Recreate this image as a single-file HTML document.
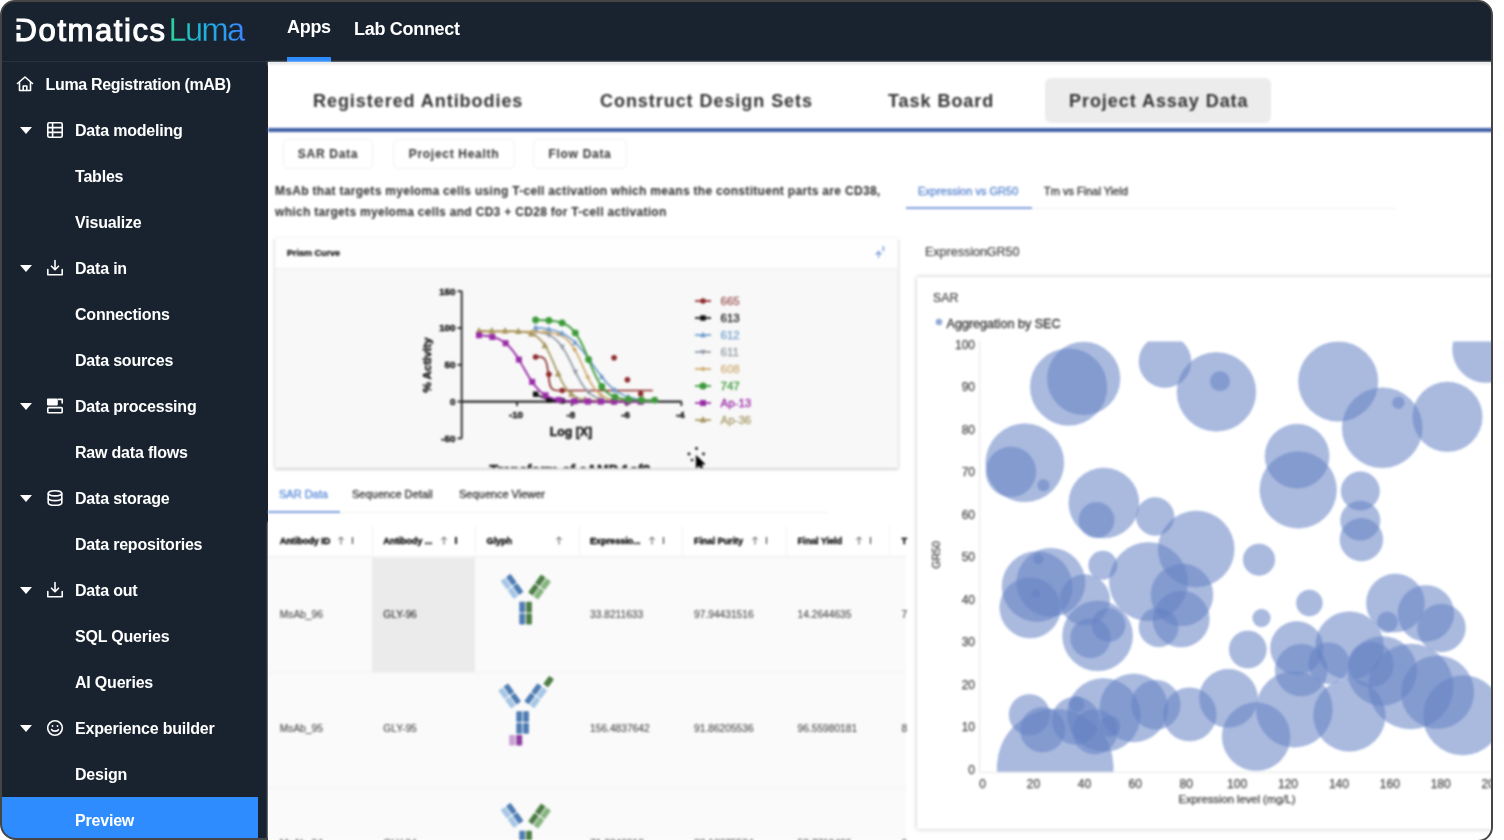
<!DOCTYPE html>
<html lang="en">
<head>
<meta charset="utf-8">
<title>Dotmatics Luma</title>
<style>
*{box-sizing:border-box;margin:0;padding:0}
html,body{width:1504px;height:840px;overflow:hidden;background:#fff;font-family:"Liberation Sans",sans-serif;}
#frame{position:absolute;left:0;top:0;width:1493px;height:842px;border:2px solid #454545;border-radius:15px;overflow:hidden;background:#18232f;}
#inner{position:absolute;left:-2px;top:-2px;width:1494px;height:842px;}
#white{position:absolute;left:268px;top:62px;width:1226px;height:780px;background:#fff}
.abs{position:absolute}
/* header */
#hdr{position:absolute;left:0;top:0;width:1494px;height:62px;background:#18232f;}
#side{position:absolute;left:0;top:62px;width:268.5px;height:780px;background:#18232f;}
#hdrline{position:absolute;left:0;top:61px;width:268px;height:1px;background:#27323e;}
.logo{position:absolute;left:16px;top:11px;color:#fff;font-size:32px;line-height:36px;font-weight:400;letter-spacing:0.45px;-webkit-text-stroke:0.7px #fff;}
.nav{position:absolute;top:17px;color:#fff;font-size:18px;line-height:22px;font-weight:700;letter-spacing:-0.3px}
.sb{position:absolute;margin-top:1px;color:#fff;font-size:16px;line-height:20px;font-weight:700;letter-spacing:-0.2px;white-space:nowrap}
.tri{position:absolute;left:20px;width:0;height:0;border-left:6px solid transparent;border-right:6px solid transparent;border-top:7px solid #fff;}
.ico{position:absolute;left:46px;width:18px;height:18px}
/* tabs */
.tab{position:absolute;top:89.8px;font-size:18px;line-height:22px;font-weight:700;color:#333;letter-spacing:0.95px;white-space:nowrap}
.btn{position:absolute;top:139px;height:30px;border:1px solid #f0f0f0;border-radius:5px;background:#fff;font-size:12px;font-weight:700;color:#333;letter-spacing:0.7px;line-height:28px;text-align:center;white-space:nowrap}
.desc{position:absolute;left:275px;margin-top:1.2px;font-size:12px;line-height:14px;font-weight:700;color:#2e2e2e;letter-spacing:0.31px;white-space:nowrap}
.st{position:absolute;-webkit-text-stroke:0.3px;font-size:11px;line-height:12px;color:#333;white-space:nowrap}
.th{position:absolute;top:535.9px;font-size:9.2px;line-height:10px;font-weight:700;color:#000;-webkit-text-stroke:0.3px #000;white-space:nowrap;letter-spacing:-0.1px}
.td{position:absolute;font-size:10.2px;line-height:10px;color:#444;-webkit-text-stroke:0.15px;white-space:nowrap}
.ar{position:absolute;top:534px;font-size:9px;line-height:10px;color:#666}
</style>
</head>
<body>
<div id="frame"><div id="inner">

<!-- HEADER -->
<div id="hdr"></div>
<div id="side"></div>
<div id="hdrline"></div>
<div id="white"></div>
<svg class="abs" style="left:0;top:0" width="268" height="60" viewBox="0 0 268 60" font-family="Liberation Sans, sans-serif"><defs><linearGradient id="lg" gradientUnits="userSpaceOnUse" x1="171" x2="244" y1="0" y2="0"><stop offset="0" stop-color="#2fd09a"/><stop offset="0.4" stop-color="#1fb6dc"/><stop offset="1" stop-color="#3a86ff"/></linearGradient></defs>
<text x="14.6" y="40.7" font-size="31" fill="#fff" stroke="#fff" stroke-width="1.1" textLength="150.5" lengthAdjust="spacing">Dotmatics</text>
<rect x="14" y="21.7" width="7.4" height="3.3" fill="#18232f"/><rect x="14" y="29.6" width="7.4" height="3.4" fill="#18232f"/>
<text x="168.6" y="40.9" font-size="32.5" fill="url(#lg)" stroke="#18232f" stroke-width="0.3" textLength="76.5" lengthAdjust="spacing">Luma</text></svg>
<div class="nav" style="left:287px;margin-top:-1.2px">Apps</div>
<div class="nav" style="left:354px;margin-top:1.4px">Lab Connect</div>
<div class="abs" style="left:287px;top:57px;width:44px;height:5px;background:#2e8cff"></div>

<!-- SIDEBAR -->
<div id="sidebar-items">
<svg class="abs" style="left:16px;top:75px" width="18" height="18" viewBox="0 0 18 18" fill="none" stroke="#fff" stroke-width="1.6" stroke-linejoin="round" stroke-linecap="round"><path d="M1.5 8.5 L9 2 L16.5 8.5"/><path d="M3.5 7.5 V15.5 H14.5 V7.5"/><path d="M7.2 15.5 V11 H10.8 V15.5"/></svg>
<div class="sb" style="left:45.5px;top:74px;letter-spacing:-0.33px">Luma Registration (mAB)</div>
<div class="tri" style="top:127px"></div>
<svg class="ico" style="top:121px" viewBox="0 0 18 18" fill="none" stroke="#fff" stroke-width="1.6"><rect x="1.8" y="1.8" width="14.4" height="14.4" rx="1.5"/><path d="M1.8 6.6 H16.2 M1.8 11.4 H16.2 M6.6 1.8 V16.2"/></svg>
<div class="sb" style="left:75px;top:120px">Data modeling</div>
<div class="sb" style="left:75px;top:166px">Tables</div>
<div class="sb" style="left:75px;top:212px">Visualize</div>
<div class="tri" style="top:265px"></div>
<svg class="ico" style="top:259px" viewBox="0 0 18 18" fill="none" stroke="#fff" stroke-width="1.6" stroke-linecap="round" stroke-linejoin="round"><path d="M9 1.5 V10.5 M5.5 7.2 L9 10.7 L12.5 7.2"/><path d="M1.8 10.5 V15.8 H16.2 V10.5"/></svg>
<div class="sb" style="left:75px;top:258px">Data in</div>
<div class="sb" style="left:75px;top:304px">Connections</div>
<div class="sb" style="left:75px;top:350px">Data sources</div>
<div class="tri" style="top:403px"></div>
<svg class="ico" style="top:397px" viewBox="0 0 18 18" fill="none" stroke="#fff" stroke-width="1.6" stroke-linejoin="round"><rect x="1.8" y="10.6" width="14.4" height="5.2" rx="0.8"/><path d="M1.8 7.6 V2.2 H11 V7.6 Z" fill="#fff"/><path d="M12.5 2.4 H16.2 V6" stroke-linecap="round"/></svg>
<div class="sb" style="left:75px;top:396px">Data processing</div>
<div class="sb" style="left:75px;top:442px">Raw data flows</div>
<div class="tri" style="top:495px"></div>
<svg class="ico" style="top:489px" viewBox="0 0 18 18" fill="none" stroke="#fff" stroke-width="1.6"><ellipse cx="9" cy="4.3" rx="6.8" ry="2.6"/><path d="M2.2 4.3 V13.7 C2.2 15.2 5.2 16.3 9 16.3 C12.8 16.3 15.8 15.2 15.8 13.7 V4.3"/><path d="M2.2 9 C2.2 10.5 5.2 11.6 9 11.6 C12.8 11.6 15.8 10.5 15.8 9"/></svg>
<div class="sb" style="left:75px;top:488px">Data storage</div>
<div class="sb" style="left:75px;top:534px">Data repositories</div>
<div class="tri" style="top:587px"></div>
<svg class="ico" style="top:581px" viewBox="0 0 18 18" fill="none" stroke="#fff" stroke-width="1.6" stroke-linecap="round" stroke-linejoin="round"><path d="M9 1.5 V10.5 M5.5 7.2 L9 10.7 L12.5 7.2"/><path d="M1.8 10.5 V15.8 H16.2 V10.5"/></svg>
<div class="sb" style="left:75px;top:580px">Data out</div>
<div class="sb" style="left:75px;top:626px">SQL Queries</div>
<div class="sb" style="left:75px;top:672px">AI Queries</div>
<div class="tri" style="top:725px"></div>
<svg class="ico" style="top:719px" viewBox="0 0 18 18" fill="none" stroke="#fff" stroke-width="1.6" stroke-linecap="round"><circle cx="9" cy="9" r="7.3"/><path d="M5.6 10.6 C6.4 12.6 11.6 12.6 12.4 10.6"/><circle cx="6.5" cy="7" r="0.9" fill="#fff" stroke="none"/><circle cx="11.5" cy="7" r="0.9" fill="#fff" stroke="none"/></svg>
<div class="sb" style="left:75px;top:718px">Experience builder</div>
<div class="sb" style="left:75px;top:764px">Design</div>
<div class="abs" style="left:0;top:797px;width:258px;height:46px;background:#2e8cff"></div>
<div class="sb" style="left:75px;top:810px">Preview</div>
</div>

<!-- MAIN -->
<div id="main" style="position:absolute;left:0;top:0;width:1494px;height:842px;filter:blur(0.8px)">
<!-- top tab bar -->
<div class="abs" style="left:268px;top:62px;width:1226px;height:3px;background:linear-gradient(#cfd2d6,#ffffff)"></div>
<div class="abs" style="left:1045px;top:78px;width:226px;height:45px;background:#ececec;border-radius:6px"></div>
<div class="tab" style="left:313px">Registered Antibodies</div>
<div class="tab" style="left:600px">Construct Design Sets</div>
<div class="tab" style="left:888px">Task Board</div>
<div class="tab" style="left:1069px">Project Assay Data</div>
<div class="abs" style="left:268px;top:128px;width:1226px;height:4px;background:#3e5ea5"></div>

<!-- sub buttons -->
<div class="btn" style="left:283px;width:90px">SAR Data</div>
<div class="btn" style="left:393px;width:122px">Project Health</div>
<div class="btn" style="left:533px;width:94px">Flow Data</div>

<div class="desc" style="top:183px">MsAb that targets myeloma cells using T-cell activation which means the constituent parts are CD38,</div>
<div class="desc" style="top:204px">which targets myeloma cells and CD3 + CD28 for T-cell activation</div>

<!-- prism card -->
<div class="abs" id="prism" style="left:275px;top:238px;width:623px;height:230px;background:#f8f8f8;box-shadow:0 1px 3px rgba(0,0,0,0.28)">
  <div class="abs" style="left:0;top:0;width:623px;height:31px;background:#fefefe;border-bottom:1px solid #efefef"></div>
  <div class="abs" style="left:12px;top:11px;font-size:9px;line-height:9px;font-weight:700;color:#000;-webkit-text-stroke:0.2px #000">Prism Curve</div>
  <!--PRISMSVG--><svg class="abs" style="left:0;top:0" width="623" height="230" viewBox="275 238 623 230" font-family="Liberation Sans, sans-serif">
<g stroke="#2a2a2a" stroke-width="1.9" fill="none">
<path d="M461.7 291 V438.6"/>
<path d="M457.5 291.2 H461.7"/>
<path d="M457.5 328.0 H461.7"/>
<path d="M457.5 364.8 H461.7"/>
<path d="M457.5 401.6 H461.7"/>
<path d="M457.5 438.4 H461.7"/>
<path d="M461.7 401.6 H681.6" stroke-width="2.4"/>
<path d="M517.0 401.6 V406"/>
<path d="M571.8 401.6 V406"/>
<path d="M626.6 401.6 V406"/>
<path d="M681.4 401.6 V406"/>
</g>
<g font-size="9.8" font-weight="700" fill="#222" stroke="#222" stroke-width="0.5" text-anchor="end">
<text x="455.5" y="294.5">150</text>
<text x="455.5" y="331.3">100</text>
<text x="455.5" y="368.1">50</text>
<text x="455.5" y="404.9">0</text>
<text x="455.5" y="441.7">-50</text>
</g>
<g font-size="9.8" font-weight="700" fill="#222" stroke="#222" stroke-width="0.5" text-anchor="middle">
<text x="516.0" y="418">-10</text>
<text x="570.8" y="418">-8</text>
<text x="625.6" y="418">-6</text>
<text x="680.4" y="418">-4</text>
<text x="571" y="436.3" font-size="12.3">Log [X]</text>
<text transform="translate(431.2 365) rotate(-90)" font-size="11.6">% Activity</text>
<text x="570" y="474.8" font-size="14" fill="#222">Transform of cAMP 1of2</text>
</g>
<g fill="none" stroke-width="1.7">
<path d="M535.6 394.2 L548.9 399.8 L562.2 400.9 L574.7 401.1 L587.8 401.4 L600.8 401.4 L614.1 401.6 L627.4 401.6 L640.7 401.6" stroke="#111"/>
<rect x="532.9" y="391.5" width="5.4" height="5.4" fill="#111"/><rect x="546.2" y="397.1" width="5.4" height="5.4" fill="#111"/><rect x="559.5" y="398.2" width="5.4" height="5.4" fill="#111"/><rect x="572.0" y="398.4" width="5.4" height="5.4" fill="#111"/><rect x="585.1" y="398.7" width="5.4" height="5.4" fill="#111"/><rect x="598.1" y="398.7" width="5.4" height="5.4" fill="#111"/><rect x="611.4" y="398.9" width="5.4" height="5.4" fill="#111"/><rect x="624.7" y="398.9" width="5.4" height="5.4" fill="#111"/><rect x="638.0" y="398.9" width="5.4" height="5.4" fill="#111"/>
<path d="M535.6 356.7 C544.9 355.6 546.8 359.1 548.4 374.3 C549.5 387.0 551.1 390.5 556.9 390.5 H652.7" stroke="#8e2a2a"/>
<circle cx="535.6" cy="357.0" r="2.8" fill="#8e2a2a"/><circle cx="548.9" cy="374.3" r="2.8" fill="#8e2a2a"/><circle cx="562.2" cy="390.5" r="2.8" fill="#8e2a2a"/><circle cx="614.1" cy="357.8" r="2.8" fill="#8e2a2a"/><circle cx="627.4" cy="379.8" r="2.8" fill="#8e2a2a"/><circle cx="640.7" cy="393.7" r="2.8" fill="#8e2a2a"/>
<path d="M535.6 331.8 L537.4 332.0 L539.1 332.3 L540.9 332.6 L542.6 333.0 L544.4 333.4 L546.1 333.9 L547.9 334.6 L549.6 335.4 L551.4 336.3 L553.1 337.4 L554.9 338.8 L556.6 340.3 L558.4 342.1 L560.2 344.2 L561.9 346.5 L563.7 349.2 L565.4 352.1 L567.2 355.3 L568.9 358.7 L570.7 362.2 L572.4 365.8 L574.2 369.5 L575.9 373.0 L577.7 376.4 L579.4 379.7 L581.2 382.7 L582.9 385.4 L584.7 387.8 L586.4 390.0 L588.2 391.8 L589.9 393.4 L591.7 394.8 L593.4 396.0 L595.2 396.9 L596.9 397.8 L598.7 398.4 L600.4 399.0 L602.2 399.5 L603.9 399.9 L605.7 400.2 L607.4 400.4 L609.2 400.7 L610.9 400.8 L612.7 401.0 L614.4 401.1 L616.2 401.2 L617.9 401.3 L619.7 401.3 L621.4 401.4 L623.2 401.4 L624.9 401.5 L626.7 401.5 L628.4 401.5 L630.2 401.5 L631.9 401.5 L633.7 401.5 L635.4 401.6 L637.2 401.6 L638.9 401.6 L640.7 401.6" stroke="#8e98a3"/>
<path d="M535.6 334.9 L538.3 329.8 H532.9 Z" fill="#8e98a3"/><path d="M548.9 338.1 L551.6 333.0 H546.2 Z" fill="#8e98a3"/><path d="M562.1 349.9 L564.8 344.8 H559.4 Z" fill="#8e98a3"/><path d="M575.3 375.0 L578.0 369.8 H572.6 Z" fill="#8e98a3"/><path d="M588.6 395.3 L591.3 390.2 H585.9 Z" fill="#8e98a3"/><path d="M601.8 402.5 L604.5 397.4 H599.1 Z" fill="#8e98a3"/><path d="M615.0 404.2 L617.7 399.1 H612.3 Z" fill="#8e98a3"/><path d="M628.3 404.6 L631.0 399.5 H625.6 Z" fill="#8e98a3"/><path d="M641.5 404.7 L644.2 399.6 H638.8 Z" fill="#8e98a3"/>
<path d="M479.0 331.7 L481.9 331.7 L484.8 331.7 L487.7 331.7 L490.7 331.7 L493.6 331.7 L496.5 331.7 L499.4 331.7 L502.3 331.7 L505.2 331.7 L508.2 331.7 L511.1 331.7 L514.0 331.7 L516.9 331.7 L519.8 331.7 L522.7 331.7 L525.7 331.7 L528.6 331.7 L531.5 331.8 L534.4 331.8 L537.3 331.9 L540.2 332.0 L543.2 332.1 L546.1 332.3 L549.0 332.5 L551.9 332.9 L554.8 333.5 L557.7 334.2 L560.7 335.4 L563.6 336.9 L566.5 339.1 L569.4 342.0 L572.3 345.8 L575.2 350.6 L578.2 356.2 L581.1 362.5 L584.0 369.0 L586.9 375.4 L589.8 381.1 L592.7 386.0 L595.7 390.0 L598.6 393.0 L601.5 395.3 L604.4 397.0 L607.3 398.2 L610.2 399.0 L613.2 399.6 L616.1 400.0 L619.0 400.3 L621.9 400.4 L624.8 400.6 L627.7 400.7 L630.7 400.7 L633.6 400.8 L636.5 400.8 L639.4 400.8 L642.3 400.8 L645.2 400.8 L648.2 400.9 L651.1 400.9 L654.0 400.9" stroke="#cfa769"/>
<path d="M479.0 329.3 L481.4 331.7 L479.0 334.1 L476.6 331.7 Z" fill="#cfa769"/><path d="M491.8 329.3 L494.2 331.7 L491.8 334.1 L489.4 331.7 Z" fill="#cfa769"/><path d="M505.1 329.3 L507.5 331.7 L505.1 334.1 L502.7 331.7 Z" fill="#cfa769"/><path d="M518.4 329.3 L520.8 331.7 L518.4 334.1 L516.0 331.7 Z" fill="#cfa769"/><path d="M531.6 329.4 L534.0 331.8 L531.6 334.2 L529.2 331.8 Z" fill="#cfa769"/><path d="M544.9 329.8 L547.3 332.2 L544.9 334.6 L542.5 332.2 Z" fill="#cfa769"/><path d="M558.2 332.0 L560.6 334.4 L558.2 336.8 L555.8 334.4 Z" fill="#cfa769"/><path d="M574.7 347.3 L577.1 349.7 L574.7 352.1 L572.3 349.7 Z" fill="#cfa769"/><path d="M587.8 374.8 L590.2 377.2 L587.8 379.6 L585.4 377.2 Z" fill="#cfa769"/><path d="M600.8 392.4 L603.2 394.8 L600.8 397.2 L598.4 394.8 Z" fill="#cfa769"/><path d="M614.1 397.3 L616.5 399.7 L614.1 402.1 L611.7 399.7 Z" fill="#cfa769"/><path d="M627.4 398.3 L629.8 400.7 L627.4 403.1 L625.0 400.7 Z" fill="#cfa769"/><path d="M640.7 398.4 L643.1 400.8 L640.7 403.2 L638.3 400.8 Z" fill="#cfa769"/><path d="M654.0 398.5 L656.4 400.9 L654.0 403.3 L651.6 400.9 Z" fill="#cfa769"/>
<path d="M535.6 327.5 L537.6 327.7 L539.6 327.9 L541.6 328.1 L543.5 328.4 L545.5 328.6 L547.5 329.0 L549.4 329.3 L551.4 329.8 L553.4 330.3 L555.4 330.8 L557.3 331.5 L559.3 332.2 L561.3 333.1 L563.3 334.0 L565.2 335.1 L567.2 336.3 L569.2 337.6 L571.1 339.1 L573.1 340.7 L575.1 342.5 L577.1 344.5 L579.0 346.6 L581.0 348.9 L583.0 351.3 L585.0 353.8 L586.9 356.5 L588.9 359.2 L590.9 362.0 L592.8 364.8 L594.8 367.6 L596.8 370.3 L598.8 373.0 L600.7 375.6 L602.7 378.1 L604.7 380.4 L606.6 382.6 L608.6 384.6 L610.6 386.5 L612.6 388.2 L614.5 389.8 L616.5 391.2 L618.5 392.5 L620.5 393.6 L622.4 394.6 L624.4 395.5 L626.4 396.3 L628.3 397.0 L630.3 397.6 L632.3 398.1 L634.3 398.6 L636.2 399.0 L638.2 399.3 L640.2 399.6 L642.2 399.9 L644.1 400.1 L646.1 400.3 L648.1 400.5 L650.0 400.7 L652.0 400.8 L654.0 400.9" stroke="#6c9bcc"/>
<path d="M535.6 324.2 L538.5 329.7 H532.7 Z" fill="#6c9bcc"/><path d="M548.9 325.9 L551.8 331.4 H546.0 Z" fill="#6c9bcc"/><path d="M562.1 330.1 L565.0 335.6 H559.2 Z" fill="#6c9bcc"/><path d="M575.3 339.4 L578.2 344.9 H572.4 Z" fill="#6c9bcc"/><path d="M588.6 355.4 L591.5 360.9 H585.7 Z" fill="#6c9bcc"/><path d="M601.8 373.6 L604.7 379.1 H598.9 Z" fill="#6c9bcc"/><path d="M615.0 386.8 L617.9 392.3 H612.1 Z" fill="#6c9bcc"/><path d="M628.3 393.6 L631.2 399.1 H625.4 Z" fill="#6c9bcc"/><path d="M641.5 396.5 L644.4 402.0 H638.6 Z" fill="#6c9bcc"/><path d="M654.7 397.6 L657.6 403.1 H651.8 Z" fill="#6c9bcc"/>
<path d="M479.0 330.9 L481.7 330.9 L484.4 330.9 L487.1 331.0 L489.8 331.0 L492.5 331.0 L495.2 331.0 L497.9 331.0 L500.5 331.0 L503.2 331.0 L505.9 331.0 L508.6 331.1 L511.3 331.1 L514.0 331.2 L516.7 331.4 L519.4 331.5 L522.1 331.8 L524.8 332.2 L527.5 332.7 L530.2 333.4 L532.9 334.4 L535.6 335.8 L538.3 337.8 L541.0 340.4 L543.7 343.7 L546.4 347.9 L549.1 353.0 L551.8 358.8 L554.5 365.1 L557.1 371.3 L559.8 377.3 L562.5 382.6 L565.2 387.0 L567.9 390.6 L570.6 393.4 L573.3 395.5 L576.0 397.0 L578.7 398.2 L581.4 399.0 L584.1 399.5 L586.8 399.9 L589.5 400.2 L592.2 400.4 L594.9 400.5 L597.6 400.6 L600.3 400.7 L603.0 400.8 L605.7 400.8 L608.4 400.8 L611.0 400.8 L613.7 400.8 L616.4 400.8 L619.1 400.9 L621.8 400.9 L624.5 400.9 L627.2 400.9 L629.9 400.9 L632.6 400.9 L635.3 400.9 L638.0 400.9 L640.7 400.9" stroke="#a6965e"/>
<path d="M479.0 327.0 L482.4 333.5 H475.6 Z" fill="#a6965e"/><path d="M491.8 327.0 L495.2 333.5 H488.4 Z" fill="#a6965e"/><path d="M505.1 327.1 L508.5 333.6 H501.7 Z" fill="#a6965e"/><path d="M518.4 327.5 L521.8 334.0 H515.0 Z" fill="#a6965e"/><path d="M531.6 330.0 L535.0 336.5 H528.2 Z" fill="#a6965e"/><path d="M544.9 341.7 L548.3 348.2 H541.5 Z" fill="#a6965e"/><path d="M558.2 369.9 L561.6 376.4 H554.8 Z" fill="#a6965e"/><path d="M571.5 390.3 L574.9 396.7 H568.1 Z" fill="#a6965e"/><path d="M584.8 395.7 L588.2 402.2 H581.4 Z" fill="#a6965e"/><path d="M598.1 396.7 L601.5 403.2 H594.7 Z" fill="#a6965e"/><path d="M612.8 396.9 L616.2 403.4 H609.4 Z" fill="#a6965e"/><path d="M627.4 396.9 L630.8 403.4 H624.0 Z" fill="#a6965e"/><path d="M640.7 397.0 L644.1 403.4 H637.3 Z" fill="#a6965e"/>
<path d="M479.0 335.2 L481.7 335.4 L484.4 335.7 L487.1 336.0 L489.8 336.4 L492.5 337.0 L495.2 337.8 L497.9 338.7 L500.5 340.0 L503.2 341.5 L505.9 343.5 L508.6 345.9 L511.3 348.8 L514.0 352.2 L516.7 356.1 L519.4 360.4 L522.1 365.1 L524.8 369.8 L527.5 374.5 L530.2 378.9 L532.9 382.9 L535.6 386.5 L538.3 389.5 L541.0 392.1 L543.7 394.2 L546.4 395.8 L549.1 397.2 L551.8 398.2 L554.5 399.0 L557.1 399.6 L559.8 400.1 L562.5 400.5 L565.2 400.7 L567.9 401.0 L570.6 401.1 L573.3 401.2 L576.0 401.3 L578.7 401.4 L581.4 401.4 L584.1 401.5 L586.8 401.5 L589.5 401.5 L592.2 401.5 L594.9 401.6 L597.6 401.6 L600.3 401.6 L603.0 401.6 L605.7 401.6 L608.4 401.6 L611.0 401.6 L613.7 401.6 L616.4 401.6 L619.1 401.6 L621.8 401.6 L624.5 401.6 L627.2 401.6 L629.9 401.6 L632.6 401.6 L635.3 401.6 L638.0 401.6 L640.7 401.6" stroke="#9a2ca8" stroke-width="1.9"/>
<rect x="476.0" y="332.2" width="6.0" height="6.0" fill="#9a2ca8"/><rect x="489.3" y="334.0" width="6.0" height="6.0" fill="#9a2ca8"/><rect x="502.6" y="340.2" width="6.0" height="6.0" fill="#9a2ca8"/><rect x="515.9" y="356.6" width="6.0" height="6.0" fill="#9a2ca8"/><rect x="529.2" y="378.9" width="6.0" height="6.0" fill="#9a2ca8"/><rect x="542.5" y="392.3" width="6.0" height="6.0" fill="#9a2ca8"/><rect x="555.8" y="396.9" width="6.0" height="6.0" fill="#9a2ca8"/><rect x="571.2" y="398.3" width="6.0" height="6.0" fill="#9a2ca8"/><rect x="584.8" y="398.5" width="6.0" height="6.0" fill="#9a2ca8"/><rect x="597.8" y="398.6" width="6.0" height="6.0" fill="#9a2ca8"/><rect x="611.1" y="398.6" width="6.0" height="6.0" fill="#9a2ca8"/><rect x="624.4" y="398.6" width="6.0" height="6.0" fill="#9a2ca8"/><rect x="637.7" y="398.6" width="6.0" height="6.0" fill="#9a2ca8"/>
<path d="M535.6 320.0 L537.6 320.1 L539.6 320.1 L541.6 320.2 L543.5 320.2 L545.5 320.3 L547.5 320.4 L549.4 320.6 L551.4 320.7 L553.4 321.0 L555.4 321.2 L557.3 321.6 L559.3 322.1 L561.3 322.6 L563.3 323.3 L565.2 324.2 L567.2 325.3 L569.2 326.6 L571.1 328.3 L573.1 330.3 L575.1 332.6 L577.1 335.4 L579.0 338.6 L581.0 342.3 L583.0 346.4 L585.0 350.8 L586.9 355.5 L588.9 360.3 L590.9 365.1 L592.8 369.7 L594.8 374.1 L596.8 378.1 L598.8 381.8 L600.7 385.0 L602.7 387.7 L604.7 390.0 L606.6 392.0 L608.6 393.6 L610.6 394.9 L612.6 395.9 L614.5 396.8 L616.5 397.5 L618.5 398.0 L620.5 398.5 L622.4 398.8 L624.4 399.1 L626.4 399.3 L628.3 399.5 L630.3 399.6 L632.3 399.7 L634.3 399.8 L636.2 399.9 L638.2 399.9 L640.2 400.0 L642.2 400.0 L644.1 400.0 L646.1 400.1 L648.1 400.1 L650.0 400.1 L652.0 400.1 L654.0 400.1" stroke="#3d9b3a" stroke-width="1.9"/>
<circle cx="535.6" cy="320.0" r="3.4" fill="#3d9b3a"/><circle cx="548.9" cy="320.5" r="3.4" fill="#3d9b3a"/><circle cx="562.1" cy="322.9" r="3.4" fill="#3d9b3a"/><circle cx="575.3" cy="332.9" r="3.4" fill="#3d9b3a"/><circle cx="588.6" cy="359.5" r="3.4" fill="#3d9b3a"/><circle cx="601.8" cy="386.5" r="3.4" fill="#3d9b3a"/><circle cx="615.0" cy="397.0" r="3.4" fill="#3d9b3a"/><circle cx="628.3" cy="399.5" r="3.4" fill="#3d9b3a"/><circle cx="641.5" cy="400.0" r="3.4" fill="#3d9b3a"/><circle cx="654.7" cy="400.1" r="3.4" fill="#3d9b3a"/>
</g>
<path d="M695 301 H711" stroke="#8e2a2a" stroke-width="1.7"/>
<circle cx="703.0" cy="301.0" r="2.8" fill="#8e2a2a"/>
<text x="720.5" y="305" font-size="11.5" fill="#a06060" stroke="#a06060" stroke-width="0.35">665</text>
<path d="M695 318 H711" stroke="#111" stroke-width="1.7"/>
<rect x="700.3" y="315.3" width="5.4" height="5.4" fill="#111"/>
<text x="720.5" y="322" font-size="11.5" fill="#222" stroke="#222" stroke-width="0.35">613</text>
<path d="M695 335 H711" stroke="#6c9bcc" stroke-width="1.7"/>
<path d="M703.0 331.7 L705.9 337.2 H700.1 Z" fill="#6c9bcc"/>
<text x="720.5" y="339" font-size="11.5" fill="#7da6d0" stroke="#7da6d0" stroke-width="0.35">612</text>
<path d="M695 352 H711" stroke="#8e98a3" stroke-width="1.7"/>
<path d="M703.0 355.1 L705.7 350.0 H700.3 Z" fill="#8e98a3"/>
<text x="720.5" y="356" font-size="11.5" fill="#9aa0a8" stroke="#9aa0a8" stroke-width="0.35">611</text>
<path d="M695 369 H711" stroke="#cfa769" stroke-width="1.7"/>
<path d="M703.0 366.6 L705.4 369.0 L703.0 371.4 L700.6 369.0 Z" fill="#cfa769"/>
<text x="720.5" y="373" font-size="11.5" fill="#d3b382" stroke="#d3b382" stroke-width="0.35">608</text>
<path d="M695 386 H711" stroke="#3d9b3a" stroke-width="1.7"/>
<circle cx="703.0" cy="386.0" r="3.6" fill="#3d9b3a"/>
<text x="720.5" y="390" font-size="11.5" fill="#3d9b3a" stroke="#3d9b3a" stroke-width="0.35">747</text>
<path d="M695 403 H711" stroke="#9a2ca8" stroke-width="1.7"/>
<rect x="700.0" y="400.0" width="6.0" height="6.0" fill="#9a2ca8"/>
<text x="720.5" y="407" font-size="11.5" fill="#9a2ca8" stroke="#9a2ca8" stroke-width="0.35">Ap-13</text>
<path d="M695 420 H711" stroke="#a6965e" stroke-width="1.7"/>
<path d="M703.0 416.1 L706.4 422.6 H699.6 Z" fill="#a6965e"/>
<text x="720.5" y="424" font-size="11.5" fill="#aa9d6e" stroke="#aa9d6e" stroke-width="0.35">Ap-36</text>
<g><path d="M696.2 455.5 L696.2 468 L699.2 465.2 L701.3 469.8 L703.2 468.9 L701.1 464.4 L705 464.2 Z" fill="#000" stroke="#fff" stroke-width="0.6"/><path d="M696.2 455.5 L696.2 468 L699.2 465.2 L701.3 469.8 L703.2 468.9 L701.1 464.4 L705 464.2 Z" fill="#000" stroke="#000" stroke-width="0.6"/><circle cx="689" cy="454" r="1.4" fill="#111"/><circle cx="696.5" cy="448.5" r="1.4" fill="#111"/><circle cx="703.5" cy="454" r="1.4" fill="#111"/><circle cx="692" cy="460" r="1.3" fill="#111"/></g>
<g stroke="#7f9fdc" stroke-width="1.3" fill="none" stroke-linecap="round"><path d="M878.6 257.3 V252 M876.2 254.3 L878.6 251.6 L881 254.3"/><path d="M883.4 246.8 V250.6" stroke-width="1.6"/></g>
</svg><!--/PRISMSVG-->
</div>

<!-- lower tabs -->
<div class="st" style="left:279px;top:488px;color:#5b8bd8">SAR Data</div>
<div class="st" style="left:352px;top:488px">Sequence Detail</div>
<div class="st" style="left:459px;top:488px">Sequence Viewer</div>
<div class="abs" style="left:268px;top:512px;width:560px;height:1px;background:#efefef"></div>
<div class="abs" style="left:268px;top:511px;width:72px;height:2px;background:#7d9fdc"></div>

<!-- table -->
<!--TABLE--><div class="abs" style="left:268px;top:522px;width:638px;height:318px;overflow:hidden;background:#fafafa">
<div class="abs" style="left:0;top:0;width:638px;height:35px;background:#fff;border-bottom:1px solid #ebebeb"></div>
<div class="abs" style="left:103.5px;top:36px;width:103px;height:114px;background:#ebebeb"></div>
<div class="abs" style="left:0;top:150px;width:638px;height:1px;background:#f3f3f3"></div>
<div class="abs" style="left:0;top:265px;width:638px;height:1px;background:#f3f3f3"></div>
<div class="abs" style="left:103.5px;top:4px;width:1px;height:31px;background:#f3f3f3"></div>
<div class="abs" style="left:207.0px;top:4px;width:1px;height:31px;background:#f3f3f3"></div>
<div class="abs" style="left:310.5px;top:4px;width:1px;height:31px;background:#f3f3f3"></div>
<div class="abs" style="left:414.0px;top:4px;width:1px;height:31px;background:#f3f3f3"></div>
<div class="abs" style="left:517.5px;top:4px;width:1px;height:31px;background:#f3f3f3"></div>
<div class="abs" style="left:621.0px;top:4px;width:1px;height:31px;background:#f3f3f3"></div>
</div>
<div class="th" style="left:279.8px">Antibody ID</div>
<svg class="abs" style="left:336.9px;top:536px" width="8" height="9" viewBox="0 0 8 9" fill="none" stroke="#555" stroke-width="1"><path d="M4 8.5 V1 M1.2 3.8 L4 1 L6.8 3.8"/></svg>
<div class="abs" style="left:351.7px;top:537px;width:1.4px;height:7px;background:#222"></div>
<div class="th" style="left:383.3px">Antibody ...</div>
<svg class="abs" style="left:440.4px;top:536px" width="8" height="9" viewBox="0 0 8 9" fill="none" stroke="#555" stroke-width="1"><path d="M4 8.5 V1 M1.2 3.8 L4 1 L6.8 3.8"/></svg>
<div class="abs" style="left:455.2px;top:537px;width:1.4px;height:7px;background:#222"></div>
<div class="th" style="left:486.6px">Glyph</div>
<svg class="abs" style="left:555.0px;top:536px" width="8" height="9" viewBox="0 0 8 9" fill="none" stroke="#555" stroke-width="1"><path d="M4 8.5 V1 M1.2 3.8 L4 1 L6.8 3.8"/></svg>
<div class="th" style="left:590.1px">Expressio...</div>
<svg class="abs" style="left:647.7px;top:536px" width="8" height="9" viewBox="0 0 8 9" fill="none" stroke="#555" stroke-width="1"><path d="M4 8.5 V1 M1.2 3.8 L4 1 L6.8 3.8"/></svg>
<div class="abs" style="left:662.5px;top:537px;width:1.4px;height:7px;background:#222"></div>
<div class="th" style="left:694.1px">Final Purity</div>
<svg class="abs" style="left:751.2px;top:536px" width="8" height="9" viewBox="0 0 8 9" fill="none" stroke="#555" stroke-width="1"><path d="M4 8.5 V1 M1.2 3.8 L4 1 L6.8 3.8"/></svg>
<div class="abs" style="left:766.0px;top:537px;width:1.4px;height:7px;background:#222"></div>
<div class="th" style="left:797.6px">Final Yield</div>
<svg class="abs" style="left:854.5px;top:536px" width="8" height="9" viewBox="0 0 8 9" fill="none" stroke="#555" stroke-width="1"><path d="M4 8.5 V1 M1.2 3.8 L4 1 L6.8 3.8"/></svg>
<div class="abs" style="left:869.5px;top:537px;width:1.4px;height:7px;background:#222"></div>
<div class="th" style="left:901.5px">T</div>
<div class="td" style="left:279.8px;top:609.9px;color:#505050">MsAb_96</div>
<div class="td" style="left:383.3px;top:609.9px;color:#333">GLY-96</div>
<div class="td" style="left:590.1px;top:609.9px;color:#505050">33.8211633</div>
<div class="td" style="left:694.1px;top:609.9px;color:#505050">97.94431516</div>
<div class="td" style="left:797.6px;top:609.9px;color:#505050">14.2644635</div>
<div class="td" style="left:901.5px;top:609.9px;color:#505050">7</div>
<div class="td" style="left:279.8px;top:724.4px;color:#505050">MsAb_95</div>
<div class="td" style="left:383.3px;top:724.4px;color:#505050">GLY-95</div>
<div class="td" style="left:590.1px;top:724.4px;color:#505050">156.4837642</div>
<div class="td" style="left:694.1px;top:724.4px;color:#505050">91.86205536</div>
<div class="td" style="left:797.6px;top:724.4px;color:#505050">96.55980181</div>
<div class="td" style="left:901.5px;top:724.4px;color:#505050">8</div>
<div class="td" style="left:279.8px;top:838.9px;color:#505050">MsAb_94</div>
<div class="td" style="left:383.3px;top:838.9px;color:#505050">GLY-94</div>
<div class="td" style="left:590.1px;top:838.9px;color:#505050">71.2840912</div>
<div class="td" style="left:694.1px;top:838.9px;color:#505050">88.10375524</div>
<div class="td" style="left:797.6px;top:838.9px;color:#505050">52.7719406</div>
<div class="td" style="left:901.5px;top:838.9px;color:#505050">6</div>
<svg class="abs" style="left:475px;top:558px" width="104" height="282" viewBox="475 558 104 282">
<g transform="translate(512.1 586.4) rotate(-36)"><rect x="-6.10" y="-11.10" width="5.6" height="10.6" rx="0.8" fill="#a6c6e6"/><rect x="-6.10" y="0.50" width="5.6" height="10.6" rx="0.8" fill="#a6c6e6"/><rect x="0.50" y="-11.10" width="5.6" height="10.6" rx="0.8" fill="#4f7db3"/><rect x="0.50" y="0.50" width="5.6" height="10.6" rx="0.8" fill="#4f7db3"/></g>
<g transform="translate(539.6 587) rotate(36)"><rect x="-6.10" y="-11.10" width="5.6" height="10.6" rx="0.8" fill="#4d7d46"/><rect x="-6.10" y="0.50" width="5.6" height="10.6" rx="0.8" fill="#4d7d46"/><rect x="0.50" y="-11.10" width="5.6" height="10.6" rx="0.8" fill="#86b47f"/><rect x="0.50" y="0.50" width="5.6" height="10.6" rx="0.8" fill="#86b47f"/></g>
<rect x="519.30" y="601.80" width="5.8" height="10.8" rx="0.8" fill="#4f7db3"/><rect x="519.30" y="613.60" width="5.8" height="10.8" rx="0.8" fill="#4f7db3"/><rect x="526.10" y="601.80" width="5.8" height="10.8" rx="0.8" fill="#4d7d46"/><rect x="526.10" y="613.60" width="5.8" height="10.8" rx="0.8" fill="#4d7d46"/>
<g transform="translate(509.6 696) rotate(-36)"><rect x="-6.10" y="-11.10" width="5.6" height="10.6" rx="0.8" fill="#a6c6e6"/><rect x="-6.10" y="0.50" width="5.6" height="10.6" rx="0.8" fill="#a6c6e6"/><rect x="0.50" y="-11.10" width="5.6" height="10.6" rx="0.8" fill="#4f7db3"/><rect x="0.50" y="0.50" width="5.6" height="10.6" rx="0.8" fill="#4f7db3"/></g>
<g transform="translate(535.8 695.8) rotate(36)"><rect x="-6.10" y="-11.10" width="5.6" height="10.6" rx="0.8" fill="#4f7db3"/><rect x="-6.10" y="0.50" width="5.6" height="10.6" rx="0.8" fill="#4f7db3"/><rect x="0.50" y="-11.10" width="5.6" height="10.6" rx="0.8" fill="#a6c6e6"/><rect x="0.50" y="0.50" width="5.6" height="10.6" rx="0.8" fill="#a6c6e6"/></g>
<g transform="translate(548.6 681.6) rotate(36)"><rect x="-3" y="-5" width="6" height="10" rx="0.8" fill="#4d7d46"/></g>
<rect x="516.30" y="711.20" width="5.8" height="10.8" rx="0.8" fill="#4f7db3"/><rect x="516.30" y="723.00" width="5.8" height="10.8" rx="0.8" fill="#4f7db3"/><rect x="523.10" y="711.20" width="5.8" height="10.8" rx="0.8" fill="#4f7db3"/><rect x="523.10" y="723.00" width="5.8" height="10.8" rx="0.8" fill="#4f7db3"/>
<rect x="509.2" y="735" width="6" height="10.6" rx="0.8" fill="#c9a1d2"/><rect x="516.2" y="735" width="6" height="10.6" rx="0.8" fill="#8f3fa0"/>
<g transform="translate(512.1 815.4) rotate(-36)"><rect x="-6.10" y="-11.10" width="5.6" height="10.6" rx="0.8" fill="#a6c6e6"/><rect x="-6.10" y="0.50" width="5.6" height="10.6" rx="0.8" fill="#a6c6e6"/><rect x="0.50" y="-11.10" width="5.6" height="10.6" rx="0.8" fill="#4f7db3"/><rect x="0.50" y="0.50" width="5.6" height="10.6" rx="0.8" fill="#4f7db3"/></g>
<g transform="translate(539.6 816) rotate(36)"><rect x="-6.10" y="-11.10" width="5.6" height="10.6" rx="0.8" fill="#4d7d46"/><rect x="-6.10" y="0.50" width="5.6" height="10.6" rx="0.8" fill="#4d7d46"/><rect x="0.50" y="-11.10" width="5.6" height="10.6" rx="0.8" fill="#86b47f"/><rect x="0.50" y="0.50" width="5.6" height="10.6" rx="0.8" fill="#86b47f"/></g>
<rect x="519.30" y="830.80" width="5.8" height="10.8" rx="0.8" fill="#4f7db3"/><rect x="519.30" y="842.60" width="5.8" height="10.8" rx="0.8" fill="#4f7db3"/><rect x="526.10" y="830.80" width="5.8" height="10.8" rx="0.8" fill="#4d7d46"/><rect x="526.10" y="842.60" width="5.8" height="10.8" rx="0.8" fill="#4d7d46"/>
</svg><!--/TABLE-->

<!-- right panel -->
<div class="st" style="left:918px;top:184.5px;font-size:11px;color:#5b86d0">Expression vs GR50</div>
<div class="st" style="left:1044px;top:184.5px;font-size:11px;color:#333">Tm vs Final Yield</div>
<div class="abs" style="left:906px;top:208px;width:490px;height:1px;background:#f0f0f0"></div>
<div class="abs" style="left:906px;top:207px;width:126px;height:2px;background:#7f9fdb"></div>
<div class="abs" style="left:925px;top:244.5px;font-size:12.5px;line-height:14px;color:#444;-webkit-text-stroke:0.2px #444">ExpressionGR50</div>
<div class="abs" id="bubble" style="left:917px;top:277px;width:600px;height:551.5px;background:#fff;box-shadow:0 0 4px rgba(0,0,0,0.28)">
<!--BUBBLESVG--><svg class="abs" style="left:0;top:0" width="583" height="563" viewBox="917 277 583 563" font-family="Liberation Sans, sans-serif">
<text x="933" y="301.5" font-size="12.3" fill="#444" stroke="#444" stroke-width="0.2">SAR</text>
<circle cx="939" cy="322" r="3.3" fill="#93a9d8"/>
<text x="946.5" y="328" font-size="12.6" fill="#333" stroke="#333" stroke-width="0.3">Aggregation by SEC</text>
<path d="M979.7 341 V772.3 H1496" fill="none" stroke="#e6e6e6" stroke-width="1"/>
<g font-size="12" fill="#4a4a4a" stroke="#4a4a4a" stroke-width="0.25" text-anchor="end">
<text x="975" y="348.8">100</text>
<text x="975" y="391.3">90</text>
<text x="975" y="433.8">80</text>
<text x="975" y="476.3">70</text>
<text x="975" y="518.8">60</text>
<text x="975" y="561.3">50</text>
<text x="975" y="603.8">40</text>
<text x="975" y="646.3">30</text>
<text x="975" y="688.8">20</text>
<text x="975" y="731.3">10</text>
<text x="975" y="773.8">0</text>
</g>
<g font-size="12" fill="#4a4a4a" stroke="#4a4a4a" stroke-width="0.25" text-anchor="middle">
<text x="982.6" y="787.8">0</text>
<text x="1033.5" y="787.8">20</text>
<text x="1084.4" y="787.8">40</text>
<text x="1135.3" y="787.8">60</text>
<text x="1186.2" y="787.8">80</text>
<text x="1237.1" y="787.8">100</text>
<text x="1288.0" y="787.8">120</text>
<text x="1338.9" y="787.8">140</text>
<text x="1389.8" y="787.8">160</text>
<text x="1440.7" y="787.8">180</text>
<text x="1491.6" y="787.8">200</text>
<text x="1237" y="803" font-size="11.2" fill="#333">Expression level (mg/L)</text>
<text transform="translate(940 555) rotate(-90)" font-size="10.6" fill="#333">GR50</text>
</g>
<defs><clipPath id="pc"><rect x="980.2" y="341.5" width="520" height="430.3"/></clipPath></defs>
<g clip-path="url(#pc)" fill="#6482c3" fill-opacity="0.55" stroke="#8aa3dc" stroke-opacity="0.5" stroke-width="0.8">
<circle cx="1068.6" cy="387.0" r="38.3"/>
<circle cx="1083.6" cy="378.5" r="36.4"/>
<circle cx="1165.0" cy="361.5" r="26.0"/>
<circle cx="1216.4" cy="391.9" r="39.4"/>
<circle cx="1220.0" cy="381.2" r="9.9"/>
<circle cx="1024.8" cy="462.8" r="39.0"/>
<circle cx="1011.0" cy="471.8" r="25.0"/>
<circle cx="1043.4" cy="485.3" r="6.0"/>
<circle cx="1103.9" cy="503.0" r="35.0"/>
<circle cx="1096.5" cy="520.0" r="17.8"/>
<circle cx="1155.1" cy="516.5" r="18.9"/>
<circle cx="1196.2" cy="549.0" r="38.0"/>
<circle cx="1338.2" cy="381.5" r="39.7"/>
<circle cx="1382.2" cy="427.8" r="40.0"/>
<circle cx="1398.4" cy="402.8" r="6.0"/>
<circle cx="1447.4" cy="416.8" r="34.8"/>
<circle cx="1486.0" cy="349.2" r="33.4"/>
<circle cx="1297.1" cy="456.2" r="32.0"/>
<circle cx="1298.2" cy="489.9" r="38.3"/>
<circle cx="1360.3" cy="491.0" r="19.2"/>
<circle cx="1360.3" cy="520.6" r="19.7"/>
<circle cx="1361.4" cy="539.5" r="21.4"/>
<circle cx="1259.0" cy="559.7" r="15.8"/>
<circle cx="1037.1" cy="586.5" r="35.0"/>
<circle cx="1050.8" cy="582.4" r="34.2"/>
<circle cx="1030.2" cy="607.6" r="30.4"/>
<circle cx="1038.5" cy="559.2" r="5.5"/>
<circle cx="1035.7" cy="593.4" r="5.5"/>
<circle cx="1084.5" cy="599.7" r="25.2"/>
<circle cx="1102.8" cy="565.2" r="14.2"/>
<circle cx="1097.6" cy="635.8" r="35.0"/>
<circle cx="1090.5" cy="638.0" r="20.0"/>
<circle cx="1108.3" cy="624.9" r="17.0"/>
<circle cx="1148.5" cy="581.6" r="39.2"/>
<circle cx="1181.9" cy="594.8" r="31.0"/>
<circle cx="1181.1" cy="618.9" r="28.2"/>
<circle cx="1158.7" cy="627.1" r="19.7"/>
<circle cx="1029.4" cy="714.7" r="20.3"/>
<circle cx="1055.2" cy="767.3" r="58.0"/>
<circle cx="1042.6" cy="729.8" r="22.5"/>
<circle cx="1075.4" cy="720.7" r="23.8"/>
<circle cx="1094.6" cy="731.7" r="22.5"/>
<circle cx="1103.6" cy="715.2" r="36.7"/>
<circle cx="1133.7" cy="707.9" r="34.0"/>
<circle cx="1155.6" cy="704.8" r="24.6"/>
<circle cx="1189.6" cy="714.4" r="26.6"/>
<circle cx="1076.8" cy="704.3" r="8.0"/>
<circle cx="1109.6" cy="726.2" r="11.0"/>
<circle cx="1309.4" cy="603.0" r="13.0"/>
<circle cx="1261.5" cy="618.0" r="8.8"/>
<circle cx="1247.8" cy="649.5" r="18.6"/>
<circle cx="1296.8" cy="647.9" r="26.3"/>
<circle cx="1301.2" cy="670.1" r="26.0"/>
<circle cx="1328.6" cy="663.2" r="20.5"/>
<circle cx="1349.4" cy="645.7" r="34.0"/>
<circle cx="1382.0" cy="670.9" r="34.5"/>
<circle cx="1410.7" cy="686.5" r="42.4"/>
<circle cx="1437.3" cy="692.2" r="36.4"/>
<circle cx="1462.7" cy="715.2" r="39.7"/>
<circle cx="1395.4" cy="603.0" r="29.0"/>
<circle cx="1425.8" cy="613.4" r="28.0"/>
<circle cx="1441.4" cy="627.9" r="24.0"/>
<circle cx="1387.4" cy="622.1" r="10.4"/>
<circle cx="1294.3" cy="709.2" r="38.0"/>
<circle cx="1349.4" cy="715.2" r="36.0"/>
<circle cx="1256.2" cy="736.6" r="34.0"/>
<circle cx="1228.4" cy="698.3" r="29.1"/>
<circle cx="1371.0" cy="664.6" r="23.0"/>
</g>
</svg><!--/BUBBLESVG-->
</div>
</div>

<div class="abs" style="left:14px;top:838px;width:254px;height:4px;background:#454545"></div>
</div></div>
<svg class="abs" style="left:0;top:818px" width="22" height="22" viewBox="0 818 22 22"><rect x="0" y="818" width="22" height="22" fill="#fff"/><path d="M1 818 V824 A15 15 0 0 0 16 839 H22 V818 Z" fill="#2e8cff"/><path d="M1 818 V824 A15 15 0 0 0 16 839 H22" fill="none" stroke="#454545" stroke-width="2"/></svg>
</body>
</html>
